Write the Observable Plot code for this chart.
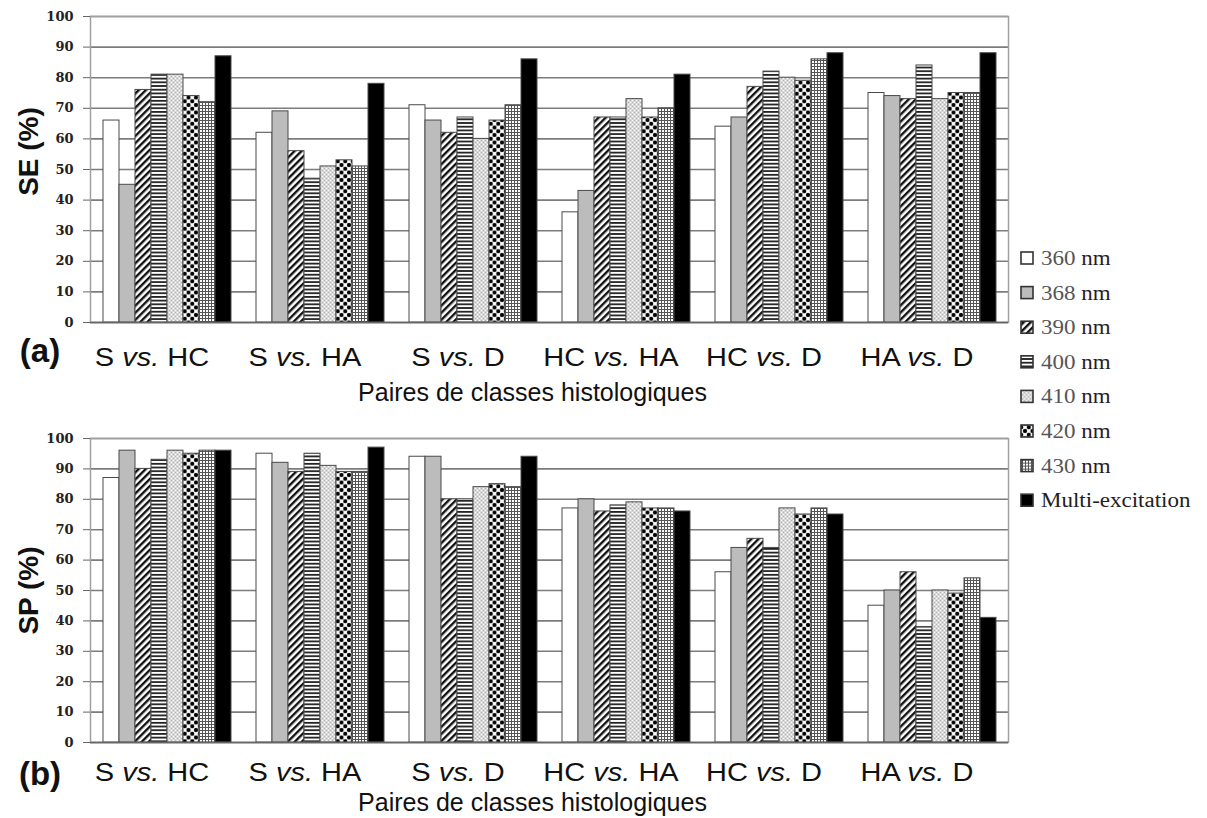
<!DOCTYPE html>
<html>
<head>
<meta charset="utf-8">
<script src="https://cdn.jsdelivr.net/npm/d3@7"></script>
<script src="https://cdn.jsdelivr.net/npm/@observablehq/plot@0.6"></script>
<style>
  body { margin: 0; background: #fff; }
  #wrap { position: relative; width: 1207px; height: 818px; overflow: hidden; background: #fff; }
  #wrap svg.chart { position: absolute; left: 0; }
  #wrap text { white-space: pre; }
</style>
</head>
<body>
<div id="wrap"></div>
<script>
// ---------- data ----------
const groups = ["S vs. HC", "S vs. HA", "S vs. D", "HC vs. HA", "HC vs. D", "HA vs. D"];
const series = ["360 nm", "368 nm", "390 nm", "400 nm", "410 nm", "420 nm", "430 nm", "Multi-excitation"];
const xLabel = "Paires de classes histologiques";
const yTicks = [0, 10, 20, 30, 40, 50, 60, 70, 80, 90, 100];

// Sensitivity SE (%) per series, in group order
const se360   = [66, 62, 71, 36, 64, 75];
const se368   = [45, 69, 66, 43, 67, 74];
const se390   = [76, 56, 62, 67, 77, 73];
const se400   = [81, 47, 67, 67, 82, 84];
const se410   = [81, 51, 60, 73, 80, 73];
const se420   = [74, 53, 66, 67, 79, 75];
const se430   = [72, 51, 71, 70, 86, 75];
const seMulti = [87, 78, 86, 81, 88, 88];

// Specificity SP (%) per series, in group order
const sp360   = [87, 95, 94, 77, 56, 45];
const sp368   = [96, 92, 94, 80, 64, 50];
const sp390   = [90, 89, 80, 76, 67, 56];
const sp400   = [93, 95, 80, 78, 64, 38];
const sp410   = [96, 91, 84, 79, 77, 50];
const sp420   = [95, 89, 85, 77, 75, 49];
const sp430   = [96, 89, 84, 77, 77, 54];
const spMulti = [96, 97, 94, 76, 75, 41];

const seValues = [se360, se368, se390, se400, se410, se420, se430, seMulti];
const spValues = [sp360, sp368, sp390, sp400, sp410, sp420, sp430, spMulti];

function toRows(values) {
  return groups.flatMap((g, i) => series.map((s, j) => ({group: g, series: s, value: values[j][i]})));
}

// ---------- patterns ----------
const wrap = d3.select("#wrap");
const defsSvg = wrap.append("svg").attr("width", 0).attr("height", 0).style("position", "absolute");
const defs = defsSvg.append("defs");
{
  let p = defs.append("pattern").attr("id", "p390").attr("patternUnits", "userSpaceOnUse")
    .attr("width", 5).attr("height", 5).attr("patternTransform", "rotate(45)");
  p.append("rect").attr("width", 5).attr("height", 5).attr("fill", "#fff");
  p.append("rect").attr("width", 2.4).attr("height", 5).attr("fill", "#111");

  p = defs.append("pattern").attr("id", "p400").attr("patternUnits", "userSpaceOnUse").attr("width", 4).attr("height", 3.7);
  p.append("rect").attr("width", 4).attr("height", 3.7).attr("fill", "#fff");
  p.append("rect").attr("width", 4).attr("height", 1.8).attr("fill", "#222");

  p = defs.append("pattern").attr("id", "p410").attr("patternUnits", "userSpaceOnUse").attr("width", 4).attr("height", 4);
  p.append("rect").attr("width", 4).attr("height", 4).attr("fill", "#d8d8d8");
  p.append("rect").attr("x", 0).attr("y", 0).attr("width", 1).attr("height", 1).attr("fill", "#fff");
  p.append("rect").attr("x", 2).attr("y", 2).attr("width", 1).attr("height", 1).attr("fill", "#fff");
  p.append("rect").attr("x", 2).attr("y", 0).attr("width", 1).attr("height", 1).attr("fill", "#b5b5b5");
  p.append("rect").attr("x", 0).attr("y", 2).attr("width", 1).attr("height", 1).attr("fill", "#b5b5b5");

  p = defs.append("pattern").attr("id", "p420").attr("patternUnits", "userSpaceOnUse").attr("width", 7.5).attr("height", 7.5);
  p.append("rect").attr("width", 7.5).attr("height", 7.5).attr("fill", "#fff");
  [[0, 0], [7.5, 0], [0, 7.5], [7.5, 7.5], [3.75, 3.75]].forEach(([cx, cy]) =>
    p.append("circle").attr("cx", cx).attr("cy", cy).attr("r", 2.1).attr("fill", "#000"));

  p = defs.append("pattern").attr("id", "p430").attr("patternUnits", "userSpaceOnUse").attr("width", 3).attr("height", 3);
  p.append("rect").attr("width", 3).attr("height", 3).attr("fill", "#fff");
  p.append("rect").attr("width", 3).attr("height", 1).attr("fill", "#555");
  p.append("rect").attr("width", 1).attr("height", 3).attr("fill", "#555");
}
const fills = ["#ffffff", "#bcbcbc", "url(#p390)", "url(#p400)", "url(#p410)", "url(#p420)", "url(#p430)", "#000000"];

// ---------- charts ----------
function stretch(el, k) {
  const w = el.getComputedTextLength();
  if (w > 0) {
    el.setAttribute("textLength", (w * k).toFixed(1));
    el.setAttribute("lengthAdjust", "spacingAndGlyphs");
  }
}

function makeChart(values, yLabel, tag, o) {
  const svg = Plot.plot({
    width: 1010,
    height: o.height,
    marginTop: o.mt,
    marginBottom: o.mb,
    marginLeft: 89,
    marginRight: 2,
    style: {background: "transparent", overflow: "visible", fontFamily: "'Liberation Sans', Arial, sans-serif"},
    fx: {domain: groups, padding: 0},
    x: {domain: series, paddingInner: 0, paddingOuter: 0.75, axis: null},
    y: {domain: [0, 100]},
    color: {domain: series, range: fills},
    marks: [
      Plot.gridY(yTicks, {stroke: "#7c7c7c", strokeOpacity: 1, strokeWidth: 1.6}),
      Plot.frame({facet: "super", stroke: "#a0a0a0", strokeWidth: 1.5}),
      Plot.barY(toRows(values), {fx: "group", x: "series", y: "value", fill: "series", stroke: "#4a4a4a", strokeWidth: 1}),
      Plot.ruleY([0], {stroke: "#666", strokeWidth: 1.6}),
      Plot.axisY(yTicks, {tickSize: 7, tickPadding: 10, stroke: "#666", fill: "#222", fontSize: 13, fontWeight: "bold",
        fontFamily: "'DejaVu Serif', serif", label: null}),
      Plot.axisFx({anchor: "bottom", tickSize: 0, tickPadding: o.tp, fontSize: 25, fill: "#111", dx: -15, label: null}),
      Plot.text([yLabel], {text: d => d, facet: "super", frameAnchor: "left", dx: -61, dy: o.ydy, rotate: -90,
        textAnchor: "middle", lineAnchor: "middle", fontSize: 28, fontWeight: "bold", fill: "#111"}),
      Plot.text([tag], {text: d => d, facet: "super", frameAnchor: "bottom-left", dx: -50.5, dy: o.tagDy,
        textAnchor: "middle", lineAnchor: "middle", fontSize: 33, fontWeight: "bold", fill: "#111", ariaLabel: "stretch tag"}),
      Plot.text([xLabel], {text: d => d, facet: "super", frameAnchor: "bottom", dx: -17, dy: o.pDy,
        textAnchor: "middle", lineAnchor: "middle", fontSize: 25, fill: "#111", ariaLabel: "stretch label"})
    ]
  });
  svg.classList.add("chart");
  svg.style.top = o.top + "px";
  wrap.node().appendChild(svg);

  // italic "vs." in group labels, and horizontal stretch like the original figure
  d3.select(svg).selectAll('g[aria-label="fx-axis tick label"] text').each(function () {
    const t = this.textContent;
    const i = t.indexOf("vs.");
    if (i >= 0) {
      const sel = d3.select(this);
      sel.text(null);
      sel.append("tspan").text(t.slice(0, i));
      sel.append("tspan").attr("font-style", "italic").text("vs.");
      sel.append("tspan").text(t.slice(i + 3));
    }
    stretch(this, 1.16);
  });
  d3.select(svg).selectAll('g[aria-label="stretch tag"] text').each(function () { stretch(this, 1.1); });
  d3.select(svg).selectAll('g[aria-label="stretch label"] text').each(function () { stretch(this, 1.15); });
  return svg;
}

makeChart(seValues, "SE (%)", "(a)", {top: 0, height: 400, mt: 16, mb: 78, tp: 26, ydy: -18, tagDy: 28.5, pDy: 70});
makeChart(spValues, "SP (%)", "(b)", {top: 400, height: 418, mt: 38, mb: 76, tp: 21, ydy: 0, tagDy: 31.5, pDy: 60});

// ---------- legend ----------
const legend = wrap.append("svg")
  .attr("width", 197).attr("height", 290)
  .style("position", "absolute").style("left", "1010px").style("top", "235px");
series.forEach((s, i) => {
  const cy = 23 + i * 34.6;
  const g = legend.append("g").attr("transform", `translate(0,${cy})`);
  g.append("rect").attr("x", 11).attr("y", -6).attr("width", 12).attr("height", 12)
    .attr("fill", fills[i]).attr("stroke", "#333").attr("stroke-width", 1.6);
  const t = g.append("text").attr("x", 31).attr("y", 0).attr("dy", "0.35em")
    .attr("font-family", "'Liberation Serif', 'Times New Roman', serif").attr("font-size", 20);
  const m = s.match(/^(\d+)( nm)$/);
  if (m) {
    t.append("tspan").attr("fill", "#555").text(m[1]);
    t.append("tspan").attr("fill", "#2a1b2a").text(m[2]);
  } else {
    t.attr("fill", "#222").text(s);
  }
  stretch(t.node(), 1.15);
});
</script>
</body>
</html>
